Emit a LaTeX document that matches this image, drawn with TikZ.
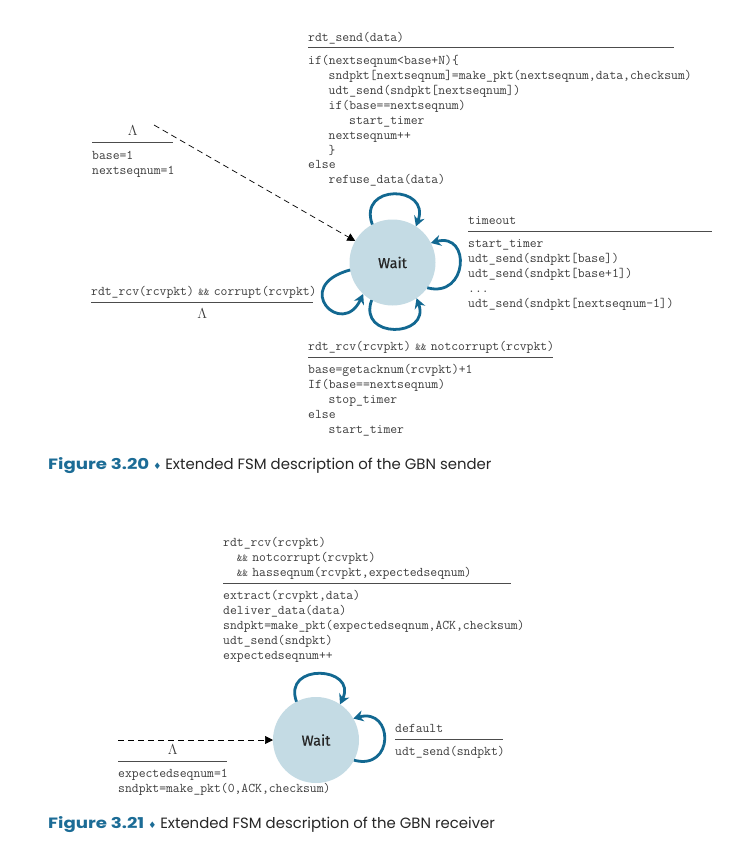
\documentclass[tikz,border=0pt]{standalone}
\usepackage{fontspec}
\usetikzlibrary{arrows.meta,positioning}
\newfontfamily\waitfam[FakeBold=0.6]{Fira Sans}
\newfontfamily\capfam{Poppins}
\newfontfamily\symfam{DejaVu Sans}
\newcommand{\codefont}{\ttfamily\fontsize{13.3pt}{14.9pt}\selectfont}
\newcommand{\ind}{\hspace*{20.5pt}}
\newcommand{\andand}{{\fontsize{10.5pt}{10.5pt}\selectfont\&\&}}
\newcommand{\capdiamond}{{\symfam\fontsize{9pt}{9pt}\selectfont\color{capteal}♦}}
\newcommand{\capnum}[1]{\scalebox{1.22}[1]{\bfseries\color{capteal}#1}}
\definecolor{loopblue}{RGB}{18,104,145}
\definecolor{statefill}{RGB}{196,219,228}
\definecolor{capteal}{RGB}{28,108,150}
\definecolor{codegray}{RGB}{60,60,60}

\begin{document}
\begin{tikzpicture}[x=1pt,y=1pt,
  state/.style={circle, fill=statefill, minimum size=86pt, inner sep=0pt, outer sep=0pt,
    font=\waitfam\fontsize{14.5pt}{16pt}\selectfont, text=black!85},
  guard/.style={font=\codefont, text=codegray, inner xsep=0pt, inner ysep=2pt,
    anchor=south west, text width=#1, align=left, execute at end node=\strut},
  action/.style={font=\codefont, text=codegray, inner xsep=0pt, inner ysep=2pt,
    anchor=north west, text width=#1, align=left, execute at begin node=\strut},
  rule/.style={draw=black!70, line width=1pt},
  selfloop/.style={draw=loopblue, line width=2.8pt, -{Stealth[length=10pt,width=11pt]}},
  initarrow/.style={draw=black, line width=0.7pt, dash pattern=on 6pt off 4pt,
    -{Triangle[length=8pt,width=8pt]}},
  caption/.style={anchor=base west, inner sep=0pt,
    font=\capfam\fontsize{14.9pt}{17pt}\selectfont, text=black!85}]
\fill[white] (0,0) rectangle (743,-867);
\useasboundingbox (0,0) rectangle (743,-867);

% GBN sender
\node[state] (swait) at (392.5,-262.5) {Wait};
\coordinate (sinit) at (154,-125);

\node[guard=81pt, align=center] (sinitev) at (92,-142.5) {$\Lambda$};
\node[action=90pt, below=4pt of sinitev.south west, anchor=north west] (sinitact)
  {base=1\\nextseqnum=1};

\node[guard=366pt] (sendev) at (308,-48) {rdt\_send(data)};
\node[action=380pt, below=4pt of sendev.south west, anchor=north west] (sendact)
  {if(nextseqnum<base+N)\{\\
   \ind sndpkt[nextseqnum]=make\_pkt(nextseqnum,data,checksum)\\
   \ind udt\_send(sndpkt[nextseqnum])\\
   \ind if(base==nextseqnum)\\
   \ind\ind start\_timer\\
   \ind nextseqnum++\\
   \ind \}\\
   else\\
   \ind refuse\_data(data)};

\node[guard=244pt] (toev) at (468,-231) {timeout};
\node[action=260pt, below=4pt of toev.south west, anchor=north west] (toact)
  {start\_timer\\udt\_send(sndpkt[base])\\udt\_send(sndpkt[base+1])\\...\\udt\_send(sndpkt[nextseqnum-1])};

\node[guard=222pt] (corev) at (91,-302) {\mbox{rdt\_rcv(rcvpkt) \andand{} corrupt(rcvpkt)}};
\node[action=222pt, align=center, below=4pt of corev.south west, anchor=north west] (coract)
  {$\Lambda$};

\node[guard=245pt] (ncev) at (308,-357) {\mbox{rdt\_rcv(rcvpkt) \andand{} notcorrupt(rcvpkt)}};
\node[action=260pt, below=4pt of ncev.south west, anchor=north west] (ncact)
  {base=getacknum(rcvpkt)+1\\If(base==nextseqnum)\\\ind stop\_timer\\else\\\ind start\_timer};

\foreach \ev in {sinitev,sendev,toev,corev,ncev}
  \draw[rule] (\ev.south west) -- (\ev.south east);

\draw[initarrow] (sinit) -- (swait);
\draw[selfloop] (swait.118) .. controls +(110:44) and +(70:44) .. (swait.57);
\draw[selfloop] (swait.324) .. controls +(345:42) and +(15:42) .. (swait.27);
\draw[selfloop] (swait.190) .. controls +(195:62) and +(245:50) .. (swait.227);
\draw[selfloop] (swait.241) .. controls +(250:42) and +(290:42) .. (swait.304);

\node[caption] (scap) at (48,-469)
  {\capnum{Figure 3.20}\ \capdiamond\ Extended FSM description of the GBN sender};

% GBN receiver
\node[state] (rwait) at (316,-740) {Wait};
\coordinate (rinit) at (118,-740);

\node[guard=288pt] (rcvev) at (223,-583)
  {rdt\_rcv(rcvpkt)\\
   \hspace*{13.7pt}\mbox{\andand{} notcorrupt(rcvpkt)}\\
   \hspace*{13.7pt}\mbox{\andand{} hasseqnum(rcvpkt,expectedseqnum)}};
\node[action=300pt, below=4pt of rcvev.south west, anchor=north west] (rcvact)
  {extract(rcvpkt,data)\\deliver\_data(data)\\sndpkt=make\_pkt(expectedseqnum,ACK,checksum)\\udt\_send(sndpkt)\\expectedseqnum++};

\node[guard=108pt] (defev) at (395,-739) {default};
\node[action=120pt, below=4pt of defev.south west, anchor=north west] (defact)
  {udt\_send(sndpkt)};

\node[guard=109pt, align=center] (rinitev) at (118,-761) {$\Lambda$};
\node[action=230pt, below=4pt of rinitev.south west, anchor=north west] (rinitact)
  {expectedseqnum=1\\sndpkt=make\_pkt(0,ACK,checksum)};

\foreach \ev in {rcvev,defev,rinitev}
  \draw[rule] (\ev.south west) -- (\ev.south east);

\draw[initarrow] (rinit) -- (rwait);
\draw[selfloop] (rwait.117) .. controls +(110:42) and +(65:42) .. (rwait.56);
\draw[selfloop] (rwait.332) .. controls +(345:42) and +(15:42) .. (rwait.30);

\node[caption] (rcap) at (48,-828)
  {\capnum{Figure 3.21}\ \capdiamond\ Extended FSM description of the GBN receiver};
\end{tikzpicture}
\end{document}
